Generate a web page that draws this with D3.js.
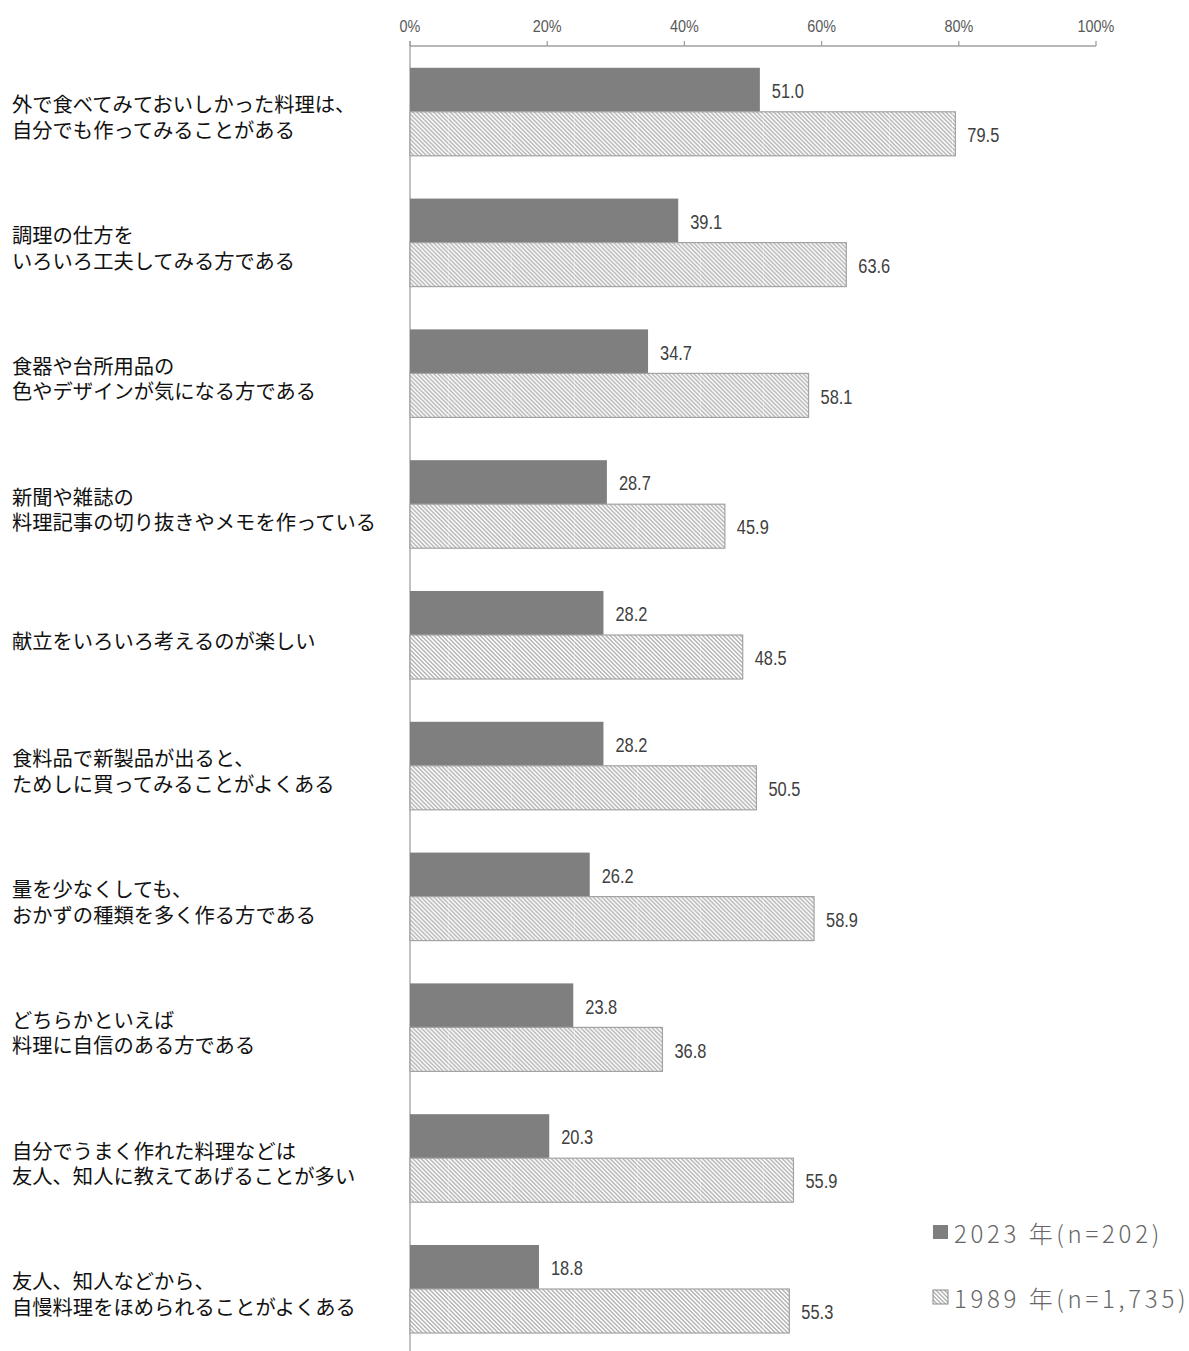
<!DOCTYPE html>
<html lang="ja">
<head>
<meta charset="utf-8">
<script src="https://cdn.jsdelivr.net/npm/d3@7"></script>
<style>
  html, body { margin: 0; padding: 0; background: #fff; }
  svg { display: block; }
</style>
</head>
<body>
<svg id="chart" width="1189" height="1351"></svg>
<script>
// Survey items (each label is split onto lines at "\n")
const categories = [
  "外で食べてみておいしかった料理は、\n自分でも作ってみることがある",
  "調理の仕方を\nいろいろ工夫してみる方である",
  "食器や台所用品の\n色やデザインが気になる方である",
  "新聞や雑誌の\n料理記事の切り抜きやメモを作っている",
  "献立をいろいろ考えるのが楽しい",
  "食料品で新製品が出ると、\nためしに買ってみることがよくある",
  "量を少なくしても、\nおかずの種類を多く作る方である",
  "どちらかといえば\n料理に自信のある方である",
  "自分でうまく作れた料理などは\n友人、知人に教えてあげることが多い",
  "友人、知人などから、\n自慢料理をほめられることがよくある"
];

const seriesNames = ["2023年(n=202)", "1989年(n=1,735)"];
const values2023 = [51.0, 39.1, 34.7, 28.7, 28.2, 28.2, 26.2, 23.8, 20.3, 18.8];
const values1989 = [79.5, 63.6, 58.1, 45.9, 48.5, 50.5, 58.9, 36.8, 55.9, 55.3];
const tickValues = [0, 20, 40, 60, 80, 100];

const svg = d3.select("#chart");

const x = d3.scaleLinear().domain([0, 100]).range([410, 1096]);
const y = d3.scaleBand()
  .domain(categories)
  .range([46.4, 1354.4])
  .paddingInner(0.327)
  .paddingOuter(0.1635);
const ySub = d3.scaleBand().domain(seriesNames).range([0, y.bandwidth()]);

// Diagonal hatch for the 1989 series
const defs = svg.append("defs");
const tile = 63;
const pat = defs.append("pattern")
  .attr("id", "hatch")
  .attr("patternUnits", "userSpaceOnUse")
  .attr("x", x(0) + 38)
  .attr("y", 0)
  .attr("width", tile)
  .attr("height", tile);
pat.append("rect").attr("width", tile).attr("height", tile).attr("fill", "#fff");
const step = tile / 15;
pat.selectAll("line.h")
  .data(d3.range(-15, 16))
  .join("line")
  .attr("class", "h")
  .attr("x1", -5).attr("y1", i => -5 + i * step)
  .attr("x2", tile + 5).attr("y2", i => tile + 5 + i * step)
  .attr("stroke", "#b2b2b2")
  .attr("stroke-width", 1.4);
pat.append("line")
  .attr("x1", 0.5).attr("x2", 0.5).attr("y1", 0).attr("y2", tile)
  .attr("stroke", "#fff").attr("stroke-opacity", 0.3).attr("stroke-width", 1);

// Top axis
const axisColor = "#a0a0a0";
const axisG = svg.append("g").attr("transform", "translate(0,46)");
axisG.append("line")
  .attr("x1", x(0)).attr("x2", x(100))
  .attr("y1", 0).attr("y2", 0)
  .attr("stroke", axisColor).attr("stroke-width", 1.3);
axisG.selectAll("line.tick")
  .data(tickValues)
  .join("line")
  .attr("class", "tick")
  .attr("x1", d => x(d)).attr("x2", d => x(d))
  .attr("y1", -5).attr("y2", 0)
  .attr("stroke", axisColor).attr("stroke-width", 1.3);
axisG.selectAll("text")
  .data(tickValues)
  .join("text")
  .attr("transform", d => `translate(${x(d)},-20) scale(0.9,1)`)
  .attr("text-anchor", "middle")
  .attr("dominant-baseline", "central")
  .attr("font-family", "'Liberation Sans', Arial, sans-serif")
  .attr("font-size", 16)
  .attr("fill", "#595959")
  .text(d => d + "%");

// Vertical baseline
svg.append("line")
  .attr("x1", x(0)).attr("x2", x(0))
  .attr("y1", 41).attr("y2", 1351)
  .attr("stroke", axisColor).attr("stroke-width", 1.3);

// Bars
const rows = categories.map((c, i) => ({ c, v: [values2023[i], values1989[i]] }));
const groups = svg.selectAll("g.row")
  .data(rows)
  .join("g")
  .attr("class", "row")
  .attr("transform", d => `translate(0,${y(d.c)})`);

groups.append("rect")
  .attr("x", x(0))
  .attr("y", ySub(seriesNames[0]))
  .attr("width", d => x(d.v[0]) - x(0))
  .attr("height", ySub.bandwidth())
  .attr("fill", "#7f7f7f");

groups.append("rect")
  .attr("x", x(0))
  .attr("y", ySub(seriesNames[1]))
  .attr("width", d => x(d.v[1]) - x(0))
  .attr("height", ySub.bandwidth())
  .attr("fill", "url(#hatch)")
  .attr("stroke", "#a3a3a3")
  .attr("stroke-width", 1.2);

// Value labels (condensed look)
[0, 1].forEach(k => {
  groups.append("text")
    .attr("transform", d =>
      `translate(${x(d.v[k]) + 12},${ySub(seriesNames[k]) + ySub.bandwidth() / 2 + 1}) scale(0.8,1)`)
    .attr("dominant-baseline", "central")
    .attr("font-family", "'Liberation Sans', Arial, sans-serif")
    .attr("font-size", 20.5)
    .attr("fill", "#404040")
    .text(d => d.v[k].toFixed(1));
});

// Category labels
const catFont = "'Noto Sans CJK JP', sans-serif";
groups.each(function (d) {
  const lines = d.c.split("\n");
  const mid = y.bandwidth() / 2;
  const t = d3.select(this).append("text")
    .attr("font-family", catFont)
    .attr("font-size", 20.3)
    .attr("fill", "#111")
    .attr("dominant-baseline", "central");
  if (lines.length === 1) {
    t.append("tspan").attr("x", 12).attr("y", mid + 5).text(lines[0]);
  } else {
    t.append("tspan").attr("x", 12).attr("y", mid - 8.5).text(lines[0]);
    t.append("tspan").attr("x", 12).attr("y", mid + 17).text(lines[1]);
  }
});

// Legend
const legend = svg.append("g").attr("class", "legend");
const legendRows = [
  { name: seriesNames[0], fill: "#7f7f7f", stroke: "none", cy: 1232 },
  { name: seriesNames[1], fill: "url(#hatch)", stroke: "#8a8a8a", cy: 1297 }
];
legend.selectAll("rect")
  .data(legendRows)
  .join("rect")
  .attr("x", 933)
  .attr("y", d => d.cy - 7)
  .attr("width", 15)
  .attr("height", 14)
  .attr("fill", d => d.fill)
  .attr("stroke", d => d.stroke)
  .attr("stroke-width", 1);
legend.selectAll("text")
  .data(legendRows)
  .join("text")
  .attr("x", 954)
  .attr("y", d => d.cy)
  .attr("dominant-baseline", "central")
  .attr("font-family", "'Noto Sans CJK JP', sans-serif")
  .attr("font-weight", 300)
  .attr("font-size", 24)
  .attr("letter-spacing", 3.7)
  .attr("fill", "#666")
  .text(d => d.name.replace("年", "\u2009年"));
</script>
</body>
</html>
